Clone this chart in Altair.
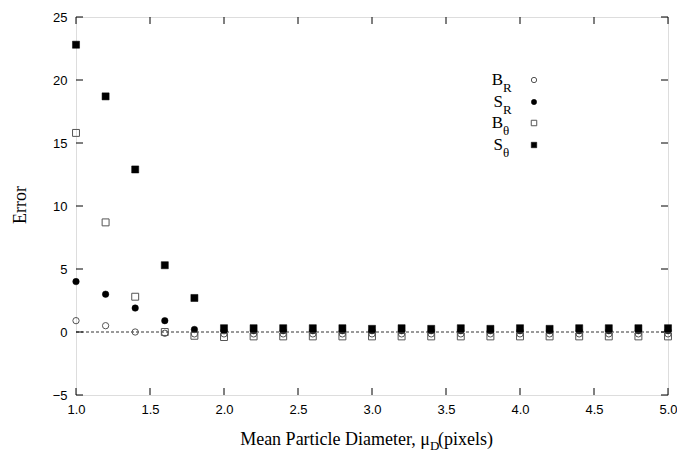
import altair as alt
import pandas as pd

# ---- data ----
x_vals = [1.0, 1.2, 1.4, 1.6, 1.8, 2.0, 2.2, 2.4, 2.6, 2.8, 3.0,
          3.2, 3.4, 3.6, 3.8, 4.0, 4.2, 4.4, 4.6, 4.8, 5.0]
b_r = [0.9, 0.5, 0.0, -0.1, -0.15, -0.15, -0.15, -0.15, -0.15, -0.15, -0.15,
       -0.15, -0.15, -0.15, -0.15, -0.15, -0.15, -0.15, -0.15, -0.15, -0.15]
s_r = [4.0, 3.0, 1.9, 0.9, 0.2, 0.1, 0.1, 0.1, 0.1, 0.1, 0.1,
       0.1, 0.1, 0.1, 0.1, 0.1, 0.1, 0.1, 0.1, 0.1, 0.1]
b_t = [15.8, 8.7, 2.8, 0.0, -0.3, -0.4, -0.35, -0.35, -0.35, -0.35, -0.35,
       -0.35, -0.35, -0.35, -0.35, -0.35, -0.35, -0.35, -0.35, -0.35, -0.35]
s_t = [22.8, 18.7, 12.9, 5.3, 2.7, 0.3, 0.3, 0.3, 0.3, 0.3, 0.25,
       0.3, 0.25, 0.3, 0.25, 0.3, 0.25, 0.3, 0.3, 0.3, 0.3]

x_ticks = [1.0, 1.5, 2.0, 2.5, 3.0, 3.5, 4.0, 4.5, 5.0]
y_ticks = [-5, 0, 5, 10, 15, 20, 25]

legend_main = ["B", "S", "B", "S"]
legend_sub = ["R", "R", "θ", "θ"]

W, H = 592, 378
GRAY = "#555555"
SERIF = "Liberation Serif"
SANS = "Liberation Sans"

xs = alt.Scale(domain=[1.0, 5.0], nice=False, zero=False)
ys = alt.Scale(domain=[-5, 25], nice=False, zero=False)

X = alt.X("x:Q", scale=xs,
          axis=alt.Axis(values=x_ticks, format=".1f", title=None, ticks=False, tickSize=0,
                        domain=False, grid=False, labelPadding=8, labelFont=SANS,
                        labelFontSize=13, labelColor="black", labelFlush=False,
                        labelOverlap=False))
Y = alt.Y("y:Q", scale=ys,
          axis=alt.Axis(values=y_ticks, format="d", title=None, ticks=False, tickSize=0,
                        domain=False, grid=False, labelPadding=9, labelFont=SANS,
                        labelFontSize=13, labelColor="black", labelFlush=False,
                        labelOverlap=False))


def series(vals, shape, filled, size):
    df = pd.DataFrame({"x": x_vals, "y": vals})
    if filled:
        m = alt.Chart(df).mark_point(shape=shape, filled=True, fill="black",
                                     stroke="black", strokeWidth=0.5, size=size, opacity=1)
    else:
        m = alt.Chart(df).mark_point(shape=shape, filled=False, stroke=GRAY,
                                     strokeWidth=1, size=size, opacity=1)
    return m.encode(x=X, y=Y)


zero_df = pd.DataFrame({"x": [1.0], "x2": [5.0], "y": [0.0]})
zero_line = alt.Chart(zero_df).mark_rule(color="black", strokeWidth=0.8,
                                         strokeDash=[3, 2]).encode(
    x=alt.X("x:Q", scale=xs), x2="x2:Q", y=alt.Y("y:Q", scale=ys))

# inward ticks (mirrored)
xt = pd.DataFrame({"x": x_ticks})
yt = pd.DataFrame({"y": y_ticks})
TL = 7
xb = alt.Chart(xt).mark_rule(color="black", strokeWidth=1).encode(
    x=alt.X("x:Q", scale=xs), y=alt.value(H), y2=alt.value(H - TL))
xtp = alt.Chart(xt).mark_rule(color="black", strokeWidth=1).encode(
    x=alt.X("x:Q", scale=xs), y=alt.value(0), y2=alt.value(TL))
yl = alt.Chart(yt).mark_rule(color="black", strokeWidth=1).encode(
    y=alt.Y("y:Q", scale=ys), x=alt.value(0), x2=alt.value(TL))
yr = alt.Chart(yt).mark_rule(color="black", strokeWidth=1).encode(
    y=alt.Y("y:Q", scale=ys), x=alt.value(W), x2=alt.value(W - TL))

# legend (pixel layout)
leg_df = pd.DataFrame({
    "main": legend_main, "sub": legend_sub,
    "tx": [427] * 4, "ty": [68, 90, 111, 133],
    "sy": [75, 97, 118, 140],
    "px": [458] * 4, "py": [63, 85, 106, 128],
})
leg_main = alt.Chart(leg_df).mark_text(align="right", baseline="alphabetic", font=SERIF,
                                       fontSize=17, color="black").encode(
    x=alt.X("tx:Q", scale=None), y=alt.Y("ty:Q", scale=None), text="main:N")
leg_sub = alt.Chart(leg_df).mark_text(align="left", baseline="alphabetic", font=SERIF,
                                      fontSize=13, color="black").encode(
    x=alt.X("tx:Q", scale=None), y=alt.Y("sy:Q", scale=None), text="sub:N")

leg_sym = []
specs = [(0, "circle", False, 28), (1, "circle", True, 28),
         (2, "square", False, 30), (3, "square", True, 30)]
for i, shp, fil, sz in specs:
    d = leg_df.iloc[[i]]
    if fil:
        m = alt.Chart(d).mark_point(shape=shp, filled=True, fill="black", stroke="black",
                                    strokeWidth=0.5, size=sz, opacity=1)
    else:
        m = alt.Chart(d).mark_point(shape=shp, filled=False, stroke=GRAY, strokeWidth=1,
                                    size=sz, opacity=1)
    leg_sym.append(m.encode(x=alt.X("px:Q", scale=None), y=alt.Y("py:Q", scale=None)))

# axis titles
title_df = pd.DataFrame({"a": ["Mean Particle Diameter, μ"], "b": ["D"], "c": ["(pixels)"],
                         "e": ["Error"]})
xt1 = alt.Chart(title_df).mark_text(align="right", baseline="alphabetic", font=SERIF,
                                    fontSize=18, color="black").encode(
    x=alt.value(354), y=alt.value(428), text="a:N")
xt2 = alt.Chart(title_df).mark_text(align="left", baseline="alphabetic", font=SERIF,
                                    fontSize=13, color="black").encode(
    x=alt.value(354), y=alt.value(433), text="b:N")
xt3 = alt.Chart(title_df).mark_text(align="left", baseline="alphabetic", font=SERIF,
                                    fontSize=18, color="black").encode(
    x=alt.value(362), y=alt.value(428), text="c:N")
ytl = alt.Chart(title_df).mark_text(align="center", baseline="middle", font=SERIF,
                                    fontSize=18, color="black", angle=270).encode(
    x=alt.value(-55), y=alt.value(188), text="e:N")

chart = alt.layer(
    zero_line, xb, xtp, yl, yr,
    series(b_r, "circle", False, 40),
    series(s_r, "circle", True, 42),
    series(b_t, "square", False, 48),
    series(s_t, "square", True, 50),
    leg_main, leg_sub, *leg_sym,
    xt1, xt2, xt3, ytl,
).properties(
    width=W, height=H,
    autosize=alt.AutoSizeParams(type="none"),
    padding={"left": 76, "top": 17, "right": 9, "bottom": 71},
).configure_view(
    stroke="black", strokeWidth=1.2
).configure(background="white")

chart.save("out.html", embed_options={"renderer": "svg", "actions": False})
